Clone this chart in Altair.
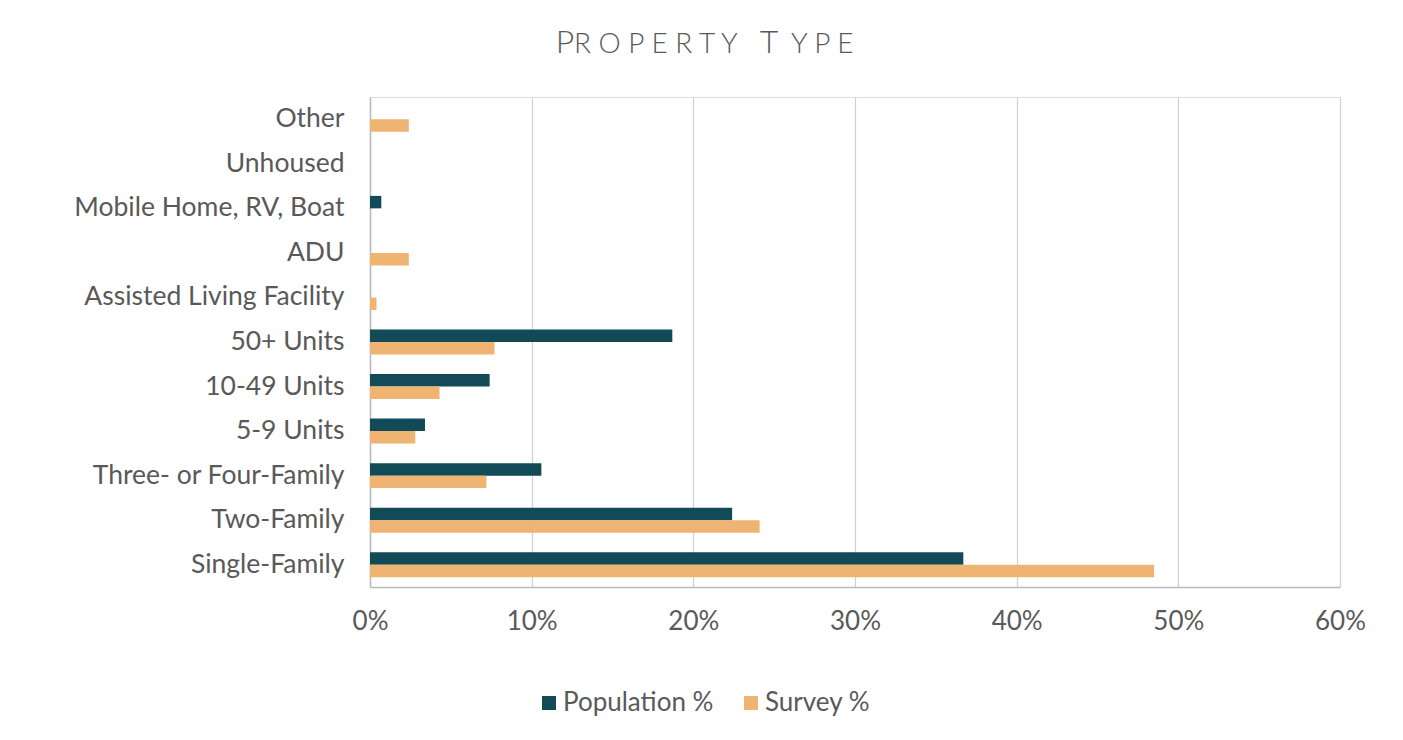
import altair as alt
import pandas as pd

categories = ["Other", "Unhoused", "Mobile Home, RV, Boat", "ADU", "Assisted Living Facility",
              "50+ Units", "10-49 Units", "5-9 Units", "Three- or Four-Family", "Two-Family", "Single-Family"]
population = [0.0, 0.0, 0.7, 0.0, 0.0, 18.7, 7.4, 3.4, 10.6, 22.4, 36.7]
survey = [2.4, 0.0, 0.0, 2.4, 0.4, 7.7, 4.3, 2.8, 7.2, 24.1, 48.5]
series = ["Population %", "Survey %"]
colors = ["#134a57", "#efb372"]
x_ticks = [0, 10, 20, 30, 40, 50, 60]

rows = []
for c, p, s in zip(categories, population, survey):
    rows.append({"cat": c, "series": series[0], "val": p / 100})
    rows.append({"cat": c, "series": series[1], "val": s / 100})
df = pd.DataFrame(rows)

FONT = "Lato"
SP = "\u00a0"

bars = alt.Chart(df).mark_bar().encode(
    y=alt.Y("cat:N", sort=categories,
            scale=alt.Scale(paddingInner=0.44, paddingOuter=0.22),
            axis=alt.Axis(title=None, ticks=False, labelFontSize=26.5, labelColor="#595959",
                          labelFont=FONT, labelPadding=26, labelLimit=0, domainColor="#b4bbbf",
                          domainWidth=1.5, grid=False)),
    yOffset=alt.YOffset("series:N", sort=series),
    x=alt.X("val:Q", scale=alt.Scale(domain=[0, 0.6], nice=False),
            axis=alt.Axis(title=None, values=[t / 100 for t in x_ticks], format=".0%",
                          ticks=False, labelFontSize=26, labelColor="#595959", labelFont=FONT,
                          labelFlush=False, labelPadding=21, gridColor="#d0d0d0", gridWidth=1.2,
                          domainColor="#b4bbbf", domainWidth=1.5)),
    color=alt.Color("series:N", sort=series,
                    scale=alt.Scale(domain=series, range=colors),
                    legend=alt.Legend(title=None, orient="none", direction="horizontal",
                                      legendX=166, legendY=593, padding=0, symbolType="square",
                                      symbolSize=196, symbolStrokeWidth=0, labelFontSize=26,
                                      labelColor="#595959", labelFont=FONT, labelOffset=1,
                                      columnPadding=24)),
)

def title_text(txt, size, xpos, align):
    return alt.Chart(pd.DataFrame({"t": [txt]})).mark_text(
        font=FONT, fontSize=size, fontWeight=300, color="#595959",
        align=align, baseline="alphabetic"
    ).encode(text="t:N", x=alt.value(xpos), y=alt.value(-44))

t1 = title_text("P", 32, 195, "center")
t2 = title_text(SP.join("ROPERTY"), 28, 204, "left")
t3 = title_text("T", 32, 399, "center")
t4 = title_text(SP.join("YPE"), 28, 421, "left")

chart = alt.layer(bars, t1, t2, t3, t4).properties(
    width=970, height=490,
    autosize=alt.AutoSizeParams(type="none"),
    padding={"left": 362, "top": 89, "right": 25, "bottom": 135},
).configure_view(stroke=None).configure(background="white")

chart.save("out.html", embed_options={"renderer": "svg", "actions": False})
